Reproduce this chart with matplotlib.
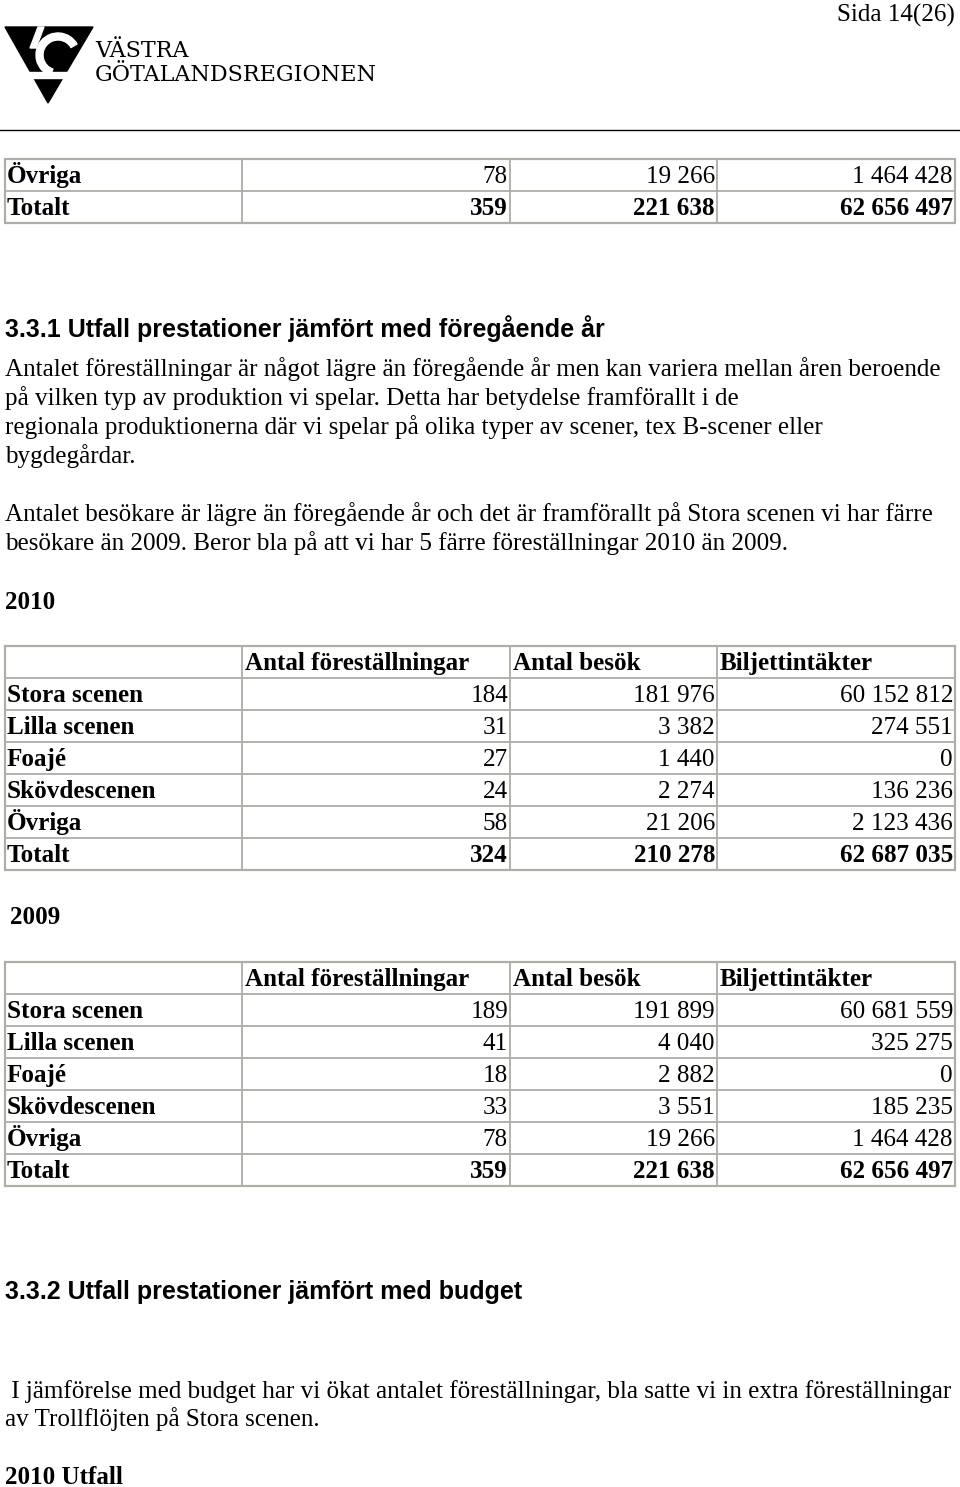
import matplotlib.pyplot as plt
from matplotlib.patches import Polygon, Rectangle, Wedge

# table data
col_headers = ['Antal föreställningar', 'Antal besök', 'Biljettintäkter']
scenes = ['Stora scenen', 'Lilla scenen', 'Foajé', 'Skövdescenen', 'Övriga', 'Totalt']
fst_2010 = ['184', '31', '27', '24', '58', '324']
besok_2010 = ['181 976', '3 382', '1 440', '2 274', '21 206', '210 278']
intakt_2010 = ['60 152 812', '274 551', '0', '136 236', '2 123 436', '62 687 035']
fst_2009 = ['189', '41', '18', '33', '78', '359']
besok_2009 = ['191 899', '4 040', '2 882', '3 551', '19 266', '221 638']
intakt_2009 = ['60 681 559', '325 275', '0', '185 235', '1 464 428', '62 656 497']

para1 = ['Antalet föreställningar är något lägre än föregående år men kan variera mellan åren beroende',
         'på vilken typ av produktion vi spelar. Detta har betydelse framförallt i de',
         'regionala produktionerna där vi spelar på olika typer av scener, tex B-scener eller',
         'bygdegårdar.']
para2 = ['Antalet besökare är lägre än föregående år och det är framförallt på Stora scenen vi har färre',
         'besökare än 2009. Beror bla på att vi har 5 färre föreställningar 2010 än 2009.']
para3 = [' I jämförelse med budget har vi ökat antalet föreställningar, bla satte vi in extra föreställningar',
         'av Trollflöjten på Stora scenen.']

W, H = 960, 1487
SERIF = 'Liberation Serif'
SANS = 'Liberation Sans'
FS = 18.1
HFS = 18.0
GRID = '#aeaea6'
BL = 8  # baseline offset from visual centre, px

fig = plt.figure(figsize=(W / 100, H / 100), dpi=100)
ax = fig.add_axes([0, 0, 1, 1])
ax.set_xlim(0, W)
ax.set_ylim(H, 0)
ax.axis('off')

cols = [5, 242, 510, 717, 955]
ROW_H = 32


def txt(x, y, s, bold=False, ha='left', family=SERIF, size=FS, off=BL):
    ax.text(x, y + off, s, family=family, fontsize=size, weight='bold' if bold else 'normal',
            ha=ha, va='baseline')


def draw_table(top, rows, header=None):
    # rows: list of (label, values, bold)
    all_rows = ([('', header, True, True)] if header else []) + [r + (False,) for r in rows]
    n = len(all_rows)
    ax.add_patch(Rectangle((cols[0], top), cols[-1] - cols[0], n * ROW_H,
                           fill=False, ec=GRID, lw=1.6))
    for i in range(1, n):
        ax.plot([cols[0], cols[-1]], [top + i * ROW_H] * 2, color=GRID, lw=1.3)
    for c in cols[1:-1]:
        ax.plot([c, c], [top, top + n * ROW_H], color=GRID, lw=1.3)
    for i, (label, vals, bold, is_head) in enumerate(all_rows):
        yc = top + i * ROW_H + ROW_H / 2
        txt(cols[0] + 2, yc, label, bold=True)
        for j, v in enumerate(vals):
            if is_head:
                txt(cols[j + 1] + 3, yc, v, bold=True)
            else:
                txt(cols[j + 2] - 2, yc, v, bold=bold, ha='right')


# page header
txt(955, 14, 'Sida 14(26)', ha='right')

# logo
ax.add_patch(Polygon([(5, 27), (93, 27), (48, 103)], closed=True, color='black'))
ax.add_patch(Wedge((58, 55), 22, 110, 330, width=7, color='white'))
ax.add_patch(Rectangle((20, 72), 70, 6, color='white'))
ax.add_patch(Polygon([(38, 27), (44, 27), (36, 48), (30, 48)], color='white'))
txt(95, 50, 'VÄSTRA', family='DejaVu Serif', size=16, off=7)
txt(95, 74, 'GÖTALANDSREGIONEN', family='DejaVu Serif', size=16, off=7)
ax.plot([0, W], [130, 130], color='black', lw=1)

# leftover table from previous page
draw_table(159, [('Övriga', [fst_2009[4], besok_2009[4], intakt_2009[4]], False),
                 ('Totalt', [fst_2009[5], besok_2009[5], intakt_2009[5]], True)])

txt(5, 328, '3.3.1 Utfall prestationer jämfört med föregående år', bold=True,
    family=SANS, size=HFS, off=9)
for i, line in enumerate(para1):
    txt(5, 368 + i * 29, line)
for i, line in enumerate(para2):
    txt(5, 513 + i * 29, line)

txt(5, 601, '2010', bold=True)
draw_table(646, [(s, [a, b, c], s == 'Totalt')
                 for s, a, b, c in zip(scenes, fst_2010, besok_2010, intakt_2010)], col_headers)

txt(10, 916, '2009', bold=True)
draw_table(962, [(s, [a, b, c], s == 'Totalt')
                 for s, a, b, c in zip(scenes, fst_2009, besok_2009, intakt_2009)], col_headers)

txt(5, 1290, '3.3.2 Utfall prestationer jämfört med budget', bold=True,
    family=SANS, size=HFS, off=9)
for i, line in enumerate(para3):
    txt(5, 1390 + i * 28, line)
txt(5, 1476, '2010 Utfall', bold=True)

fig.savefig('out.png', dpi=100)
